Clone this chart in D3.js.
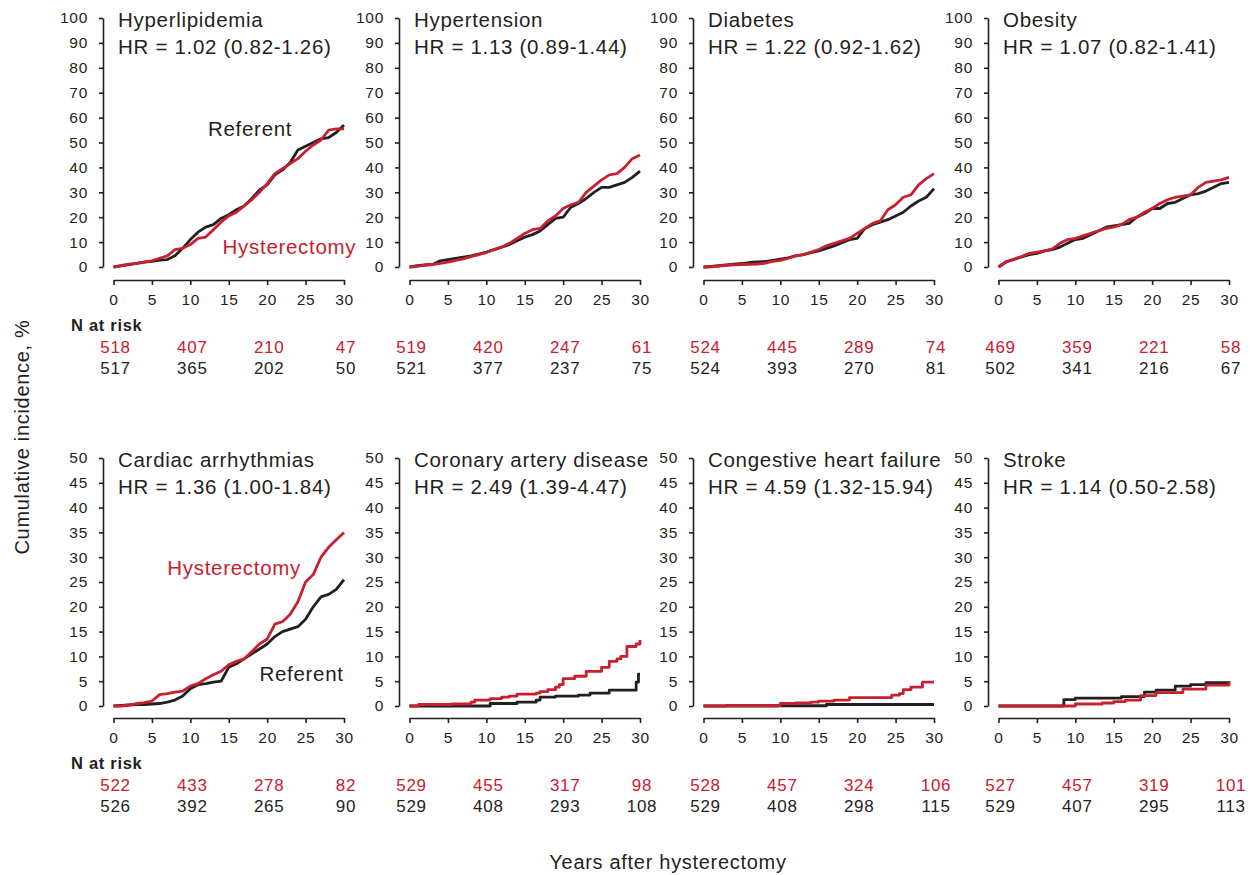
<!DOCTYPE html>
<html>
<head>
<meta charset="utf-8">
<script src="https://cdn.jsdelivr.net/npm/d3@7"></script>
<style>
body{margin:0;background:#fff}
text{font-family:"Liberation Sans",Arial,sans-serif;fill:#231f20;letter-spacing:0.7px}
.axis path,.axis line{stroke:#231f20;stroke-width:1.6}
</style>
</head>
<body>
<svg id="chart" width="1250" height="875"></svg>
<script>
var titles = ["Hyperlipidemia","Hypertension","Diabetes","Obesity",
	"Cardiac arrhythmias","Coronary artery disease","Congestive heart failure","Stroke"];
var hazardRatios = ["HR = 1.02 (0.82-1.26)","HR = 1.13 (0.89-1.44)","HR = 1.22 (0.92-1.62)","HR = 1.07 (0.82-1.41)",
	"HR = 1.36 (1.00-1.84)","HR = 2.49 (1.39-4.47)","HR = 4.59 (1.32-15.94)","HR = 1.14 (0.50-2.58)"];
var yMaxima = [100,100,100,100,50,50,50,50];
var xTicks = [0,5,10,15,20,25,30];
var riskYears = [0,10,20,30];
var atRiskHyst = [[518,407,210,47],[519,420,247,61],[524,445,289,74],[469,359,221,58],
	[522,433,278,82],[529,455,317,98],[528,457,324,106],[527,457,319,101]];
var atRiskRef = [[517,365,202,50],[521,377,237,75],[524,393,270,81],[502,341,216,67],
	[526,392,265,90],[529,408,293,108],[529,408,298,115],[529,407,295,113]];

// yearly readings (t = 0..30)
var years = [0,1,2,3,4,5,6,7,8,9,10,11,12,13,14,15,16,17,18,19,20,21,22,23,24,25,26,27,28,29,30];
var hyperlipidemiaHyst = [0,0.6,1.1,1.5,2,2.5,3.5,4.5,7,7.5,9,11.5,12,15,18,20.5,22,24.5,27,30,33.5,37.5,39.5,41.5,43.5,46.5,49,51,55,55.5,55.5];
var hyperlipidemiaRef = [0,0.5,1,1.5,2,2.3,2.8,3,4.5,7.5,11,14,16,17,19.5,21,23,24.5,27.5,31,33,37,39,42,47,48.5,50,51.5,52,54,57];
var hypertensionHyst = [0,0.3,0.8,1,1.5,2,2.7,3.3,4.2,5,5.8,7,8,9.5,11.5,13.5,15,15.5,18.5,20.5,23.5,25,26,30,32.5,35,37,37.5,40,43.5,45];
var hypertensionRef = [0,0.5,0.8,1,2.5,3,3.5,4,4.5,5.2,6,7,8,9,10.5,12,13,14.5,17,19.5,20,24,25.5,27.5,30,32,32,33,34,36,38.5];
var diabetesHyst = [0,0.1,0.4,0.7,0.9,1,1.1,1.2,1.5,2.3,2.7,3.5,4.5,5,6,7,8.5,9.5,10.5,11.5,13.5,15.5,17.5,18.5,23,25,28,29,33,35.5,37.5];
var diabetesRef = [0,0.2,0.5,0.8,1.1,1.4,1.8,2,2.2,2.7,3.2,3.7,4.5,5,5.8,6.5,7.5,8.5,9.8,11,11.5,15.5,17,18,19,20.5,22,24.5,26.5,28,31.5];
var obesityHyst = [0,2.2,3.2,4.2,5.5,6,6.5,7.3,9.5,11,11.5,12.5,13.5,14.5,15.5,16,17,19,20,22,23.5,25.5,27,28,28.5,29,32,34,34.5,35,36];
var obesityRef = [0,2,3,4,5,5.5,6.5,7,8,9.5,11,11.5,13,14.5,16,16.5,17,17.5,20,21.5,23.5,23.5,25.5,26,27.5,29,29.5,30.5,32,33.5,34];
var arrhythmiaHyst = [0,0,0.2,0.5,0.7,1,2.3,2.5,2.8,3,4,4.5,5.5,6.3,7,8.3,9,9.5,11,12.5,13.5,16.5,17,18.5,21,25,26.5,30,32,33.5,35];
var arrhythmiaRef = [0,0.1,0.2,0.3,0.3,0.4,0.5,0.8,1.2,2,3.5,4.3,4.5,4.8,5,7.8,8.5,9.5,10.5,11.5,12.5,14,15,15.5,16,17.5,20,22,22.5,23.5,25.5];

// event steps [time, cumulative %]
var cadHyst = [[0,0],[1.2,0.3],[5.5,0.4],[8,0.8],[8.5,1.2],[10.5,1.5],[12,1.8],[13,2],[14,2.4],[16.5,2.6],[17,2.9],[18,3.3],[19,3.8],[19.5,4.3],[20,5.5],[21.5,6],[23,7],[25,7.8],[26,9],[27,9.5],[27.5,10],[28.3,12],[29.5,12.5],[30,13.3]];
var cadRef = [[0,0],[10.5,0.5],[14,0.8],[16.5,1.2],[17,1.8],[19,2],[22,2.2],[23.5,2.6],[26,3.2],[29.5,4.8],[29.8,6.4],[30,6.4]];
var chfHyst = [[0,0],[3,0.1],[10,0.5],[12,0.6],[14,0.8],[15,1],[17,1.2],[19,1.7],[24.5,2.2],[25.5,2.5],[26,3.3],[27,3.8],[28.5,4.8],[30,4.8]];
var chfRef = [[0,0],[9.8,0.05],[16,0.3],[30,0.3]];
var strokeHyst = [[0,0],[10,0.4],[13.5,0.6],[15,0.9],[16.5,1.2],[18.5,2.1],[20.5,2.7],[24,3.4],[27,4.2],[30,4.9]];
var strokeRef = [[0,0],[8.5,1.3],[10,1.6],[16,1.9],[19,2.8],[20.5,3.2],[23,4],[25,4.3],[27,4.7],[30,5]];

var panelSeries = [
	[hyperlipidemiaHyst, hyperlipidemiaRef],
	[hypertensionHyst, hypertensionRef],
	[diabetesHyst, diabetesRef],
	[obesityHyst, obesityRef],
	[arrhythmiaHyst, arrhythmiaRef],
	[cadHyst, cadRef],
	[chfHyst, chfRef],
	[strokeHyst, strokeRef]
];
// group labels [panel, text, t, value, colour]
var groupLabels = [
	[0, "Referent", 12.3, 55.5, "ref"],
	[0, "Hysterectomy", 14.2, 8, "hyst"],
	[4, "Hysterectomy", 7, 27.8, "hyst"],
	[4, "Referent", 19, 6.5, "ref"]
];

var red = "#c8202f", dark = "#231f20";
var svg = d3.select("#chart");
var colX = [103, 399, 693, 988];
var rows = [
	{top: 18, bottom: 267, axisY: 280, nY: 325},
	{top: 458, bottom: 706, axisY: 718, nY: 763}
];
var panels = [];

titles.forEach(function(title, i){
	var row = rows[Math.floor(i/4)], cx = colX[i%4];
	var x = d3.scaleLinear().domain([0,30]).range([cx+10.5, cx+241]);
	var y = d3.scaleLinear().domain([0, yMaxima[i]]).range([row.bottom, row.top]);
	panels.push({x: x, y: y});
	var g = svg.append("g").attr("class", "panel");

	g.append("g")
		.attr("class", "axis")
		.attr("transform", "translate(" + cx + ",0)")
		.call(d3.axisLeft(y).tickValues(d3.range(0, yMaxima[i]+1, yMaxima[i]/10)).tickSize(4).tickSizeOuter(0).tickPadding(11))
		.call(function(a){ a.selectAll("text").style("font-size","15.5px").attr("fill",dark); });

	g.append("g")
		.attr("class", "axis")
		.attr("transform", "translate(0," + row.axisY + ")")
		.call(d3.axisBottom(x).tickValues(xTicks).tickSize(5).tickSizeOuter(0).tickPadding(9))
		.call(function(a){ a.selectAll("text").style("font-size","15.5px").attr("fill",dark); });

	g.append("text").attr("x", cx+15).attr("y", row.top+9).style("font-size","20.5px").text(title);
	g.append("text").attr("x", cx+15).attr("y", row.top+36).style("font-size","20.5px").text(hazardRatios[i]);

	// curves: referent first, hysterectomy on top
	[[panelSeries[i][1], dark], [panelSeries[i][0], red]].forEach(function(s){
		var yearly = typeof s[0][0] === "number";
		var pts = yearly ? years.map(function(t, k){ return [t, s[0][k]]; }) : s[0];
		var line = d3.line()
			.x(function(d){ return x(d[0]); })
			.y(function(d){ return y(d[1]); })
			.curve(yearly ? d3.curveLinear : d3.curveStepAfter);
		g.append("path")
			.attr("d", line(pts))
			.attr("fill", "none")
			.attr("stroke", s[1])
			.attr("stroke-width", 2.8)
			.attr("stroke-linejoin", "round");
	});

	// numbers at risk
	if (i%4 === 0) {
		g.append("text").attr("x", 71).attr("y", row.nY+6)
			.style("font-size","16.5px").style("font-weight","bold").text("N at risk");
	}
	g.selectAll("text.hyst").data(atRiskHyst[i]).enter().append("text")
		.attr("class","hyst")
		.attr("x", function(d, k){ return x(riskYears[k]) + 2; })
		.attr("y", row.nY+28)
		.attr("text-anchor","middle")
		.style("font-size","17px").style("fill", red)
		.text(function(d){ return d; });
	g.selectAll("text.ref").data(atRiskRef[i]).enter().append("text")
		.attr("class","ref")
		.attr("x", function(d, k){ return x(riskYears[k]) + 2; })
		.attr("y", row.nY+49)
		.attr("text-anchor","middle")
		.style("font-size","17px")
		.text(function(d){ return d; });
});

groupLabels.forEach(function(l){
	var p = panels[l[0]];
	svg.append("text")
		.attr("x", p.x(l[2]))
		.attr("y", p.y(l[3]))
		.attr("dy", "0.36em")
		.style("font-size","20.5px")
		.style("fill", l[4] === "hyst" ? red : dark)
		.text(l[1]);
});

svg.append("text")
	.attr("transform", "translate(29,437) rotate(-90)")
	.attr("text-anchor","middle")
	.style("font-size","20px")
	.text("Cumulative incidence, %");
svg.append("text")
	.attr("x", 668).attr("y", 869)
	.attr("text-anchor","middle")
	.style("font-size","20px")
	.text("Years after hysterectomy");
</script>
</body>
</html>
